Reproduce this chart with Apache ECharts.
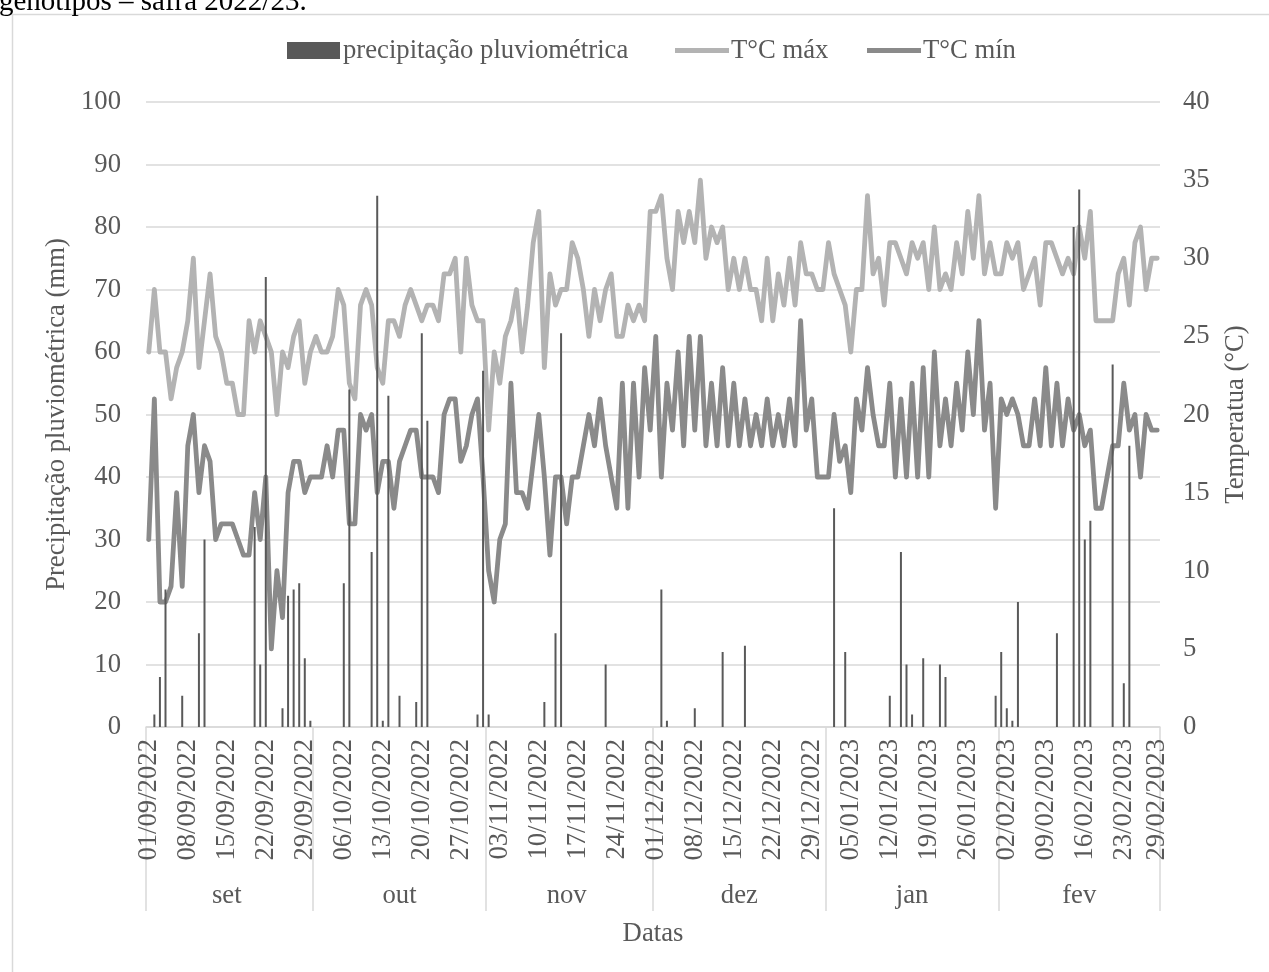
<!DOCTYPE html>
<html>
<head>
<meta charset="utf-8">
<script src="https://cdn.jsdelivr.net/npm/echarts@6/dist/echarts.min.js"></script>
<style>
html,body{margin:0;padding:0;background:#fff;}
#chart{width:1269px;height:972px;}
</style>
</head>
<body>
<div id="chart"></div>
<script>
// ---- calendar (category axis) ----
var monthNames = ['set', 'out', 'nov', 'dez', 'jan', 'fev'];
var monthNums = ['09', '10', '11', '12', '01', '02'];
var monthYears = ['2022', '2022', '2022', '2022', '2023', '2023'];
var monthDays = [30, 31, 30, 31, 31, 29];

// ---- daily values (182 days) ----
var tMax = [
  24,28,24,24,21,23,24,26,30,23,26,29,25,24,22,22,20,20,26,24,26,25,24,20,24,23,25,26,22,24,
  25,24,24,25,28,27,22,21,27,28,27,23,22,26,26,25,27,28,27,26,27,27,26,29,29,30,24,30,27,26,26,
  19,24,22,25,26,28,24,27,31,33,23,29,27,28,28,31,30,28,25,28,26,28,29,25,25,27,26,27,26,33,
  33,34,30,28,33,31,33,31,35,30,32,31,32,28,30,28,30,28,28,26,30,26,29,27,30,27,31,29,29,28,28,
  31,29,28,27,24,28,28,34,29,30,27,31,31,30,29,31,30,31,28,32,28,29,28,31,29,33,30,34,29,31,29,
  29,31,30,31,28,29,30,27,31,31,30,29,30,29,32,30,33,26,26,26,26,29,30,27,31,32,28,30,30
];
var tMin = [
  12,21,8,8,9,15,9,18,20,15,18,17,12,13,13,13,12,11,11,15,12,16,5,10,7,15,17,17,15,16,
  16,16,18,16,19,19,13,13,20,19,20,15,17,17,14,17,18,19,19,16,16,16,15,20,21,21,17,18,20,21,16,
  10,8,12,13,22,15,15,14,17,20,16,11,16,16,13,16,16,18,20,18,21,18,16,14,22,14,22,16,23,19,
  25,16,22,19,24,18,25,19,25,18,22,18,23,18,22,18,21,18,20,18,21,18,20,18,21,18,26,19,21,16,16,
  16,20,17,18,15,21,19,23,20,18,18,22,16,21,16,22,16,23,16,24,18,21,18,22,19,24,20,26,19,22,14,
  21,20,21,20,18,18,21,18,23,18,22,18,21,19,20,18,19,14,14,16,18,18,22,19,20,16,20,19,19
];
var rainDays = [1,2,3,6,9,10,19,20,21,24,25,26,27,28,29,
  35,36,40,41,42,43,45,48,49,50,59,60,61,
  71,73,74,82,
  92,93,98,103,107,
  123,125,133,135,136,137,139,142,143,152,
  153,154,155,156,163,166,167,168,169,173,175,176];
var rainMm = [2,8,22,5,15,30,32,10,72,3,21,22,23,11,1,
  23,54,28,85,1,53,5,4,63,49,2,57,2,
  4,15,63,10,
  22,1,3,12,13,
  35,12,5,28,10,2,11,10,8,5,
  12,3,1,20,15,80,86,30,33,58,7,45];

var leftTicks = {min: 0, max: 100, interval: 10};
var rightTicks = {min: 0, max: 40, interval: 5};

// ---- build categories ----
var dates = [], monthOfDay = [], monthStart = {}, monthMid = {};
var idx = 0;
for (var m = 0; m < monthNames.length; m++) {
  monthStart[idx] = true;
  monthMid[idx + Math.floor((monthDays[m] - 1) / 2)] = true;
  for (var d = 1; d <= monthDays[m]; d++) {
    dates.push((d < 10 ? '0' + d : '' + d) + '/' + monthNums[m] + '/' + monthYears[m]);
    monthOfDay.push(monthNames[m]);
    idx++;
  }
}
var nDays = dates.length;
var rain = [];
for (var i = 0; i < nDays; i++) rain.push(0);
for (var k = 0; k < rainDays.length; k++) rain[rainDays[k]] = rainMm[k];

var FONT = 'Liberation Serif';
var FS = 26.7;
var TXT = '#595959';
var GRID = '#d9d9d9';
var C_RAIN = '#595959', C_MAX = '#b3b3b3', C_MIN = '#8a8a8a';

var chart = echarts.init(document.getElementById('chart'), null, {renderer: 'canvas'});
chart.setOption({
  backgroundColor: '#ffffff',
  animation: false,
  textStyle: {fontFamily: FONT},
  graphic: [
    {type: 'rect', left: 10, top: 12, silent: true,
     shape: {x: 0, y: 0, width: 1400, height: 1100},
     style: {fill: 'none', stroke: GRID, lineWidth: 1.5}},
    {type: 'text', x: -1, y: 17, silent: true,
     style: {text: 'genótipos – safra 2022/23.', font: '29px "Liberation Serif"', fill: '#000', verticalAlign: 'bottom', align: 'left'}}
  ],
  legend: [
    {data: [{name: 'precipitação pluviométrica', icon: 'rect'}], left: 282, top: 32, itemWidth: 53, itemHeight: 17,
     textStyle: {fontSize: FS, color: TXT, fontFamily: FONT, padding: [0, 0, 0, -2]}},
    {data: [{name: 'T°C máx', icon: 'rect'}], left: 670, top: 32, itemWidth: 54, itemHeight: 5,
     textStyle: {fontSize: FS, color: TXT, fontFamily: FONT, padding: [0, 0, 0, -3]}},
    {data: [{name: 'T°C mín', icon: 'rect'}], left: 862, top: 32, itemWidth: 54, itemHeight: 5,
     textStyle: {fontSize: FS, color: TXT, fontFamily: FONT, padding: [0, 0, 0, -3]}}
  ],
  grid: {left: 146, right: 109, top: 102, bottom: 245, containLabel: false},
  xAxis: [
    {type: 'category', data: dates, boundaryGap: true,
     axisLine: {show: true, lineStyle: {color: GRID, width: 1.5}},
     axisTick: {show: true, length: 184, lineStyle: {color: GRID, width: 1.5},
       interval: function (i) { return !!monthStart[i]; }},
     axisLabel: {rotate: 90, margin: 12, fontSize: FS, color: TXT, fontFamily: FONT,
       interval: function (i) { return i % 7 === 0 || i === nDays - 1; }},
     name: 'Datas', nameLocation: 'middle', nameGap: 193,
     nameTextStyle: {fontSize: FS, color: TXT, fontFamily: FONT},
     splitLine: {show: false}},
    {type: 'category', data: monthOfDay, boundaryGap: true, position: 'bottom',
     axisLine: {show: false}, axisTick: {show: false}, splitLine: {show: false},
     axisLabel: {margin: 155, fontSize: FS, color: TXT, fontFamily: FONT,
       interval: function (i) { return !!monthMid[i]; }}}
  ],
  yAxis: [
    {type: 'value', min: leftTicks.min, max: leftTicks.max, interval: leftTicks.interval, position: 'left',
     axisLine: {show: false}, axisTick: {show: false},
     axisLabel: {margin: 25, fontSize: FS, color: TXT, fontFamily: FONT},
     splitLine: {show: true, lineStyle: {color: GRID, width: 1.5}},
     name: 'Precipitação pluviométrica (mm)', nameLocation: 'middle', nameGap: 68,
     nameTextStyle: {fontSize: FS, color: TXT, fontFamily: FONT}},
    {type: 'value', min: rightTicks.min, max: rightTicks.max, interval: rightTicks.interval, position: 'right',
     axisLine: {show: false}, axisTick: {show: false},
     axisLabel: {margin: 23, fontSize: FS, color: TXT, fontFamily: FONT},
     splitLine: {show: false},
     name: 'Temperatua (°C)', nameLocation: 'middle', nameGap: 62,
     nameTextStyle: {fontSize: FS, color: TXT, fontFamily: FONT}}
  ],
  series: [
    {name: 'precipitação pluviométrica', type: 'bar', xAxisIndex: 0, yAxisIndex: 0, data: rain,
     barWidth: 2, itemStyle: {color: C_RAIN}, z: 5},
    {name: 'T°C máx', type: 'line', xAxisIndex: 0, yAxisIndex: 1, data: tMax, symbol: 'none', showSymbol: false,
     lineStyle: {color: C_MAX, width: 4.8, join: 'round', cap: 'round'}, itemStyle: {color: C_MAX}, z: 2},
    {name: 'T°C mín', type: 'line', xAxisIndex: 0, yAxisIndex: 1, data: tMin, symbol: 'none', showSymbol: false,
     lineStyle: {color: C_MIN, width: 4.8, join: 'round', cap: 'round'}, itemStyle: {color: C_MIN}, z: 3}
  ]
});
</script>
</body>
</html>
